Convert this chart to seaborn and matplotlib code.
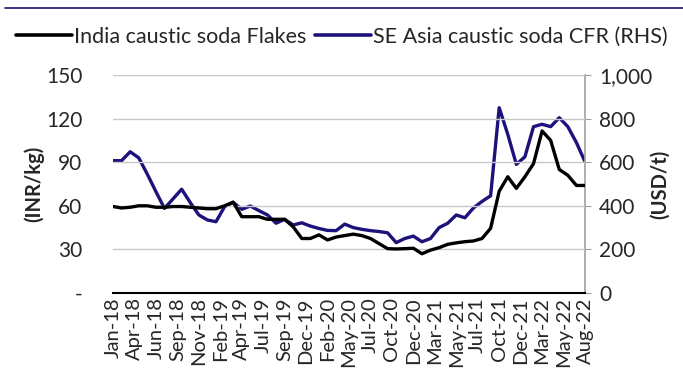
import numpy as np
import pandas as pd
import seaborn as sns
import matplotlib.pyplot as plt
from matplotlib.lines import Line2D
from matplotlib.ticker import FuncFormatter

# monthly data Jan-18 .. Aug-22
india_flakes = [59.5, 58.5, 59, 60, 60, 59, 59, 59.5, 59.5, 59, 58.5, 58, 58, 60,
                62.5, 52.5, 52.5, 52.5, 50.7, 50.7, 50.7, 45.5, 37.5, 37.5, 40, 36.5,
                38.5, 39.5, 40.5, 39.5, 37.5, 34, 30.5, 30.3, 30.5, 30.8, 27, 29.5,
                31.2, 33.5, 34.5, 35.3, 35.8, 37.5, 44.5, 70, 80, 72, 80, 89, 111.5,
                105, 85, 81, 74, 74]
se_asia_cfr = [607, 607, 648, 620, 545, 465, 388, 432, 476, 415, 358, 335, 327, 396,
               416, 384, 399, 378, 358, 320, 338, 312, 322, 307, 296, 287, 286, 316,
               300, 292, 286, 282, 276, 231, 250, 261, 235, 250, 300, 320, 358, 345,
               390, 420, 446, 850, 728, 590, 625, 763, 774, 763, 804, 763, 690, 602]
tick_labels = ['Jan-18', 'Apr-18', 'Jun-18', 'Sep-18', 'Nov-18', 'Feb-19', 'Apr-19',
               'Jul-19', 'Sep-19', 'Dec-19', 'Feb-20', 'May-20', 'Jul-20', 'Oct-20',
               'Dec-20', 'Mar-21', 'May-21', 'Jul-21', 'Oct-21', 'Dec-21', 'Mar-22',
               'May-22', 'Aug-22']

df = pd.DataFrame({'month': np.arange(len(india_flakes)),
                   'india': india_flakes, 'seasia': se_asia_cfr})

sns.set_style('white')
plt.rcParams['font.family'] = ['Lato', 'DejaVu Sans']

fig = plt.figure(figsize=(6.83, 3.87), dpi=100)
ax = fig.add_axes([113 / 683, 1 - 293 / 387, 472 / 683, 218 / 387])
ax2 = ax.twinx()

black = '#000000'
navy = '#1c1279'
sns.lineplot(data=df, x='month', y='india', ax=ax, color=black, linewidth=2.4)
sns.lineplot(data=df, x='month', y='seasia', ax=ax2, color=navy, linewidth=2.4)
ax.set_zorder(ax2.get_zorder() + 1)
ax.patch.set_visible(False)

ax.set_xlim(0, 55)
ax.set_ylim(0, 150)
ax2.set_ylim(0, 1000)
ax.set_yticks([0, 30, 60, 90, 120, 150])
ax.yaxis.set_major_formatter(FuncFormatter(lambda v, p: '-' if v == 0 else f'{v:.0f}'))
ax2.set_yticks([0, 200, 400, 600, 800, 1000])
ax2.yaxis.set_major_formatter(FuncFormatter(lambda v, p: f'{v:,.0f}'))
ax.set_xticks([i * 2.5 for i in range(len(tick_labels))])
ax.set_xticklabels(tick_labels, rotation=90)

ax.grid(axis='y', color='#c8c8c8', linewidth=1)
ax.grid(axis='x', visible=False)
ax2.grid(False)
for s in ['top', 'left', 'right']:
    ax.spines[s].set_visible(False)
for s in ['top', 'left', 'bottom']:
    ax2.spines[s].set_visible(False)
ax.spines['bottom'].set_color('black')
ax.spines['bottom'].set_linewidth(1.5)
ax2.spines['right'].set_color('#a0a0a0')
ax2.spines['right'].set_linewidth(1.2)

ax.tick_params(axis='y', length=0, labelsize=15, pad=22)
ax.tick_params(axis='x', length=0, labelsize=14.5, pad=3)
ax2.tick_params(axis='y', length=4, color='#a0a0a0', labelsize=15, pad=6)

# axis titles placed at fixed spots
ax.set_xlabel('')
ax.set_ylabel('')
ax2.set_ylabel('')
fig.text(34 / 683, 1 - 184 / 387, '(INR/kg)', rotation=90, ha='center', va='center',
         fontsize=14.5, fontweight='bold')
fig.text(660 / 683, 1 - 184 / 387, '(USD/t)', rotation=90, ha='center', va='center',
         fontsize=14.5, fontweight='bold')

handles = [Line2D([], [], color=black, linewidth=2.6),
           Line2D([], [], color=navy, linewidth=2.6)]
fig.legend(handles, ['India caustic soda Flakes', 'SE Asia caustic soda CFR (RHS)'],
           loc='center', bbox_to_anchor=(0.5, 1 - 37 / 387), ncol=2, frameon=False,
           fontsize=15.5, handlelength=2.6, handletextpad=0.1, columnspacing=0.4)

fig.add_artist(Line2D([5 / 683, 1], [1 - 8 / 387, 1 - 8 / 387], color=navy, linewidth=1.2))

fig.savefig('out.png', dpi=100)
